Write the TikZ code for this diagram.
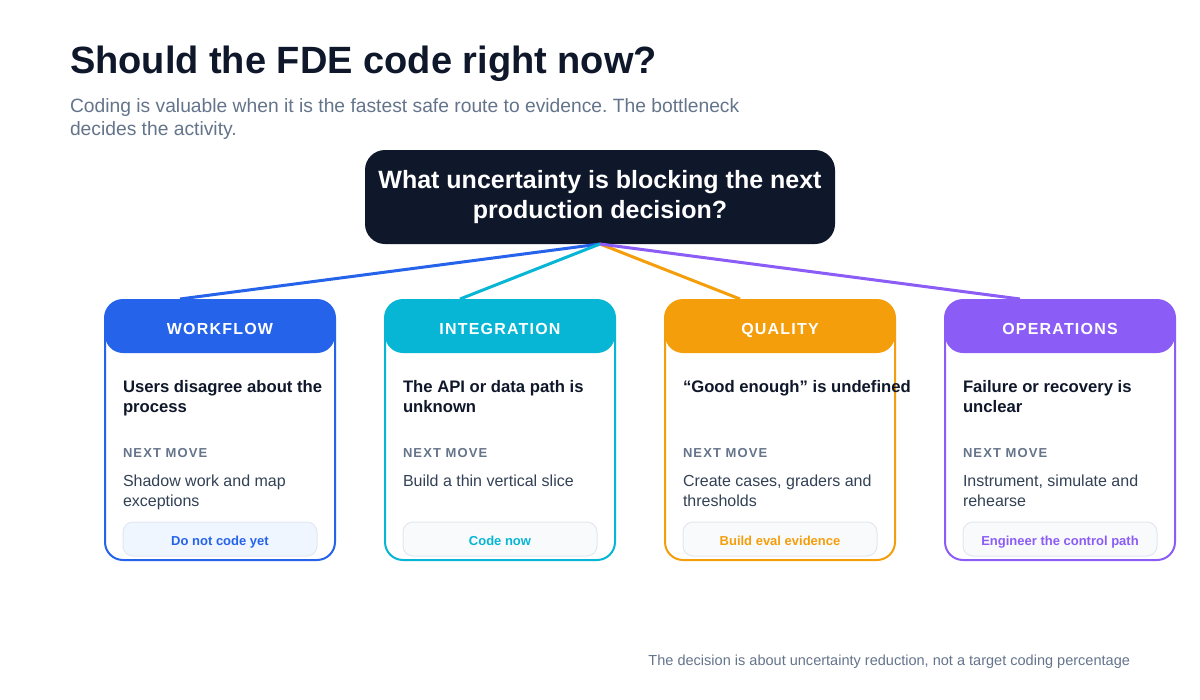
\documentclass[tikz,border=0pt]{standalone}
\usepackage{fontspec}
\setmainfont{Liberation Sans}
\newfontfamily\spacedhead[LetterSpace=7.5]{Liberation Sans}
\newfontfamily\spacedsmall[LetterSpace=8.5]{Liberation Sans}
\frenchspacing
\definecolor{ink}{HTML}{0F172A}
\definecolor{slate}{HTML}{64748B}
\definecolor{bodytxt}{HTML}{334155}
\definecolor{cblue}{HTML}{2563EB}
\definecolor{ccyan}{HTML}{06B6D4}
\definecolor{corange}{HTML}{F59E0B}
\definecolor{cpurple}{HTML}{8B5CF6}
\definecolor{badgeblue}{HTML}{EFF6FF}
\definecolor{badgegray}{HTML}{F8FAFC}
\definecolor{badgeline}{HTML}{E2E8F0}
\tikzset{
  cardframe/.style={draw=#1, line width=1.5pt, rounded corners=13.5pt, minimum width=172.5pt, minimum height=195pt},
  cardhead/.style={fill=#1, rounded corners=13.5pt, minimum width=172.5pt, minimum height=39.75pt},
  headtxt/.style={anchor=base, text=white, font=\spacedhead\bfseries\fontsize{12}{14}\selectfont},
  cardtitle/.style={anchor=base west, text=ink, font=\bfseries\fontsize{12.5}{15}\selectfont},
  nextlbl/.style={anchor=base west, text=slate, font=\spacedsmall\bfseries\fontsize{9.75}{12}\selectfont},
  bodytext/.style={anchor=base west, text=bodytxt, font=\fontsize{12}{15}\selectfont},
  badge/.style={fill=#1, draw=badgeline, line width=0.75pt, rounded corners=7.5pt, minimum width=145.5pt, minimum height=25.5pt},
  badgetxt/.style={anchor=base, text=#1, font=\bfseries\fontsize{9.75}{12}\selectfont},
  link/.style={draw=#1, line width=2.25pt},
}
\newcommand\toplines[1]{\parbox[t]{200pt}{\raggedright #1}}
\newcommand\fdecard[9]{%
  \node[cardhead=#3] (#2h) at (#1,326.5) {};
  \node[cardframe=#3] (#2) at (#1,430) {};
  \node[headtxt] (#2ht) at (#1,334) {#4};
  \node[cardtitle] (#2t) at (#1-97,392) {\toplines{#5}};
  \node[nextlbl] (#2n) at (#1-97,457) {NEXT MOVE};
  \node[bodytext] (#2b) at (#1-97,486) {\toplines{#6}};
  \node[badge=#8] (#2g) at (#1,539) {};
  \node[badgetxt=#9] (#2gt) at (#1,545) {#7};
}
\begin{document}
\begin{tikzpicture}[x=0.75pt,y=-0.75pt, every node/.style={inner sep=0pt, outer sep=0pt}]
\useasboundingbox (0,0) rectangle (1200,700);
\fill[white] (0,0) rectangle (1200,700);
\node[anchor=base west, text=ink, font=\bfseries\fontsize{28.5}{33}\selectfont] (title) at (70,73) {Should the FDE code right now?};
\node[anchor=base west, align=left, text=slate, font=\fontsize{14.45}{17.25}\selectfont] (sub) at (70,135) {Coding is valuable when it is the fastest safe route to evidence. The bottleneck\\decides the activity.};
\node[fill=ink, rounded corners=15pt, minimum width=352.5pt, minimum height=70.5pt, text=white, align=center, font=\bfseries\fontsize{18.75}{22.5}\selectfont] (q) at (600,197) {What uncertainty is blocking the next\\production decision?};
\coordinate (hub) at (600,244);
\coordinate (e1) at (180,299);
\coordinate (e2) at (460,299);
\coordinate (e3) at (740,299);
\coordinate (e4) at (1020,299);
\draw[link=cblue] (hub) -- (e1);
\draw[link=ccyan] (hub) -- (e2);
\draw[link=corange] (hub) -- (e3);
\draw[link=cpurple] (hub) -- (e4);
\fdecard{220}{wf}{cblue}{WORKFLOW}{Users disagree about the\\process}{Shadow work and map\\exceptions}{Do not code yet}{badgeblue}{cblue}
\fdecard{500}{in}{ccyan}{INTEGRATION}{The API or data path is\\unknown}{Build a thin vertical slice}{Code now}{badgegray}{ccyan}
\fdecard{780}{qu}{corange}{QUALITY}{“Good enough” is undefined}{Create cases, graders and\\thresholds}{Build eval evidence}{badgegray}{corange}
\fdecard{1060}{op}{cpurple}{OPERATIONS}{Failure or recovery is\\unclear}{Instrument, simulate and\\rehearse}{Engineer the control path}{badgegray}{cpurple}
\node[anchor=base east, text=slate, font=\fontsize{10.9}{13}\selectfont] (foot) at (1130,665) {The decision is about uncertainty reduction, not a target coding percentage};
\end{tikzpicture}
\end{document}
